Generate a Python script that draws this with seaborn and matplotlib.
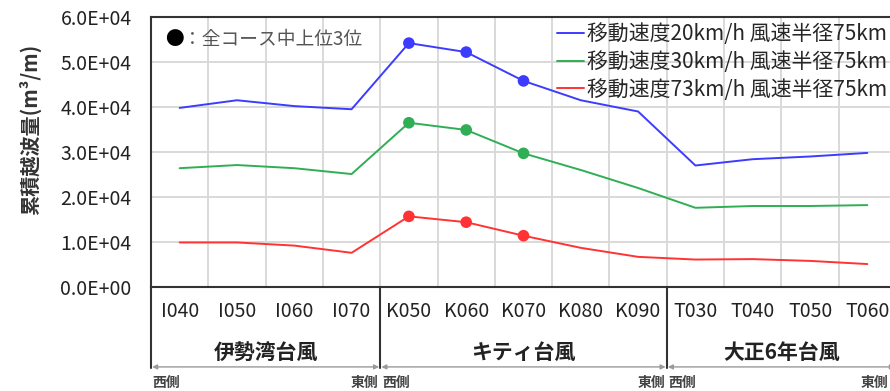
import matplotlib
matplotlib.use("Agg")
import matplotlib.pyplot as plt
import seaborn as sns
import pandas as pd

# Courses (x categories) and their typhoon groups
courses = ["I040", "I050", "I060", "I070",
           "K050", "K060", "K070", "K080", "K090",
           "T030", "T040", "T050", "T060"]
groups = ["伊勢湾台風", "キティ台風", "大正6年台風"]
group_sizes = [4, 5, 4]

# Cumulative overtopping volume (m3/m) per course
series_names = ["移動速度20km/h 風速半径75km",
                "移動速度30km/h 風速半径75km",
                "移動速度73km/h 風速半径75km"]
v20 = [3.98e4, 4.15e4, 4.02e4, 3.95e4, 5.42e4, 5.22e4, 4.58e4, 4.15e4, 3.90e4,
       2.70e4, 2.84e4, 2.90e4, 2.98e4]
v30 = [2.64e4, 2.71e4, 2.64e4, 2.51e4, 3.65e4, 3.49e4, 2.97e4, 2.60e4, 2.20e4,
       1.76e4, 1.80e4, 1.80e4, 1.82e4]
v73 = [0.99e4, 0.99e4, 0.92e4, 0.76e4, 1.57e4, 1.44e4, 1.14e4, 0.87e4, 0.67e4,
       0.61e4, 0.62e4, 0.58e4, 0.51e4]
top3 = ["K050", "K060", "K070"]

yticks = [0, 1e4, 2e4, 3e4, 4e4, 5e4, 6e4]
ytick_labels = ["0.0E+00", "1.0E+04", "2.0E+04", "3.0E+04",
                "4.0E+04", "5.0E+04", "6.0E+04"]

colors = ["#3c3cff", "#2fae55", "#ff3333"]

rows = []
for name, vals in zip(series_names, [v20, v30, v73]):
    for i, (c, v) in enumerate(zip(courses, vals)):
        rows.append({"pos": i, "course": c, "series": name, "value": v})
df = pd.DataFrame(rows)

sns.set_theme(style="white")
plt.rcParams["font.family"] = ["Noto Sans CJK JP", "DejaVu Sans"]

fig = plt.figure(figsize=(8.90, 3.91), dpi=100)
ax = fig.add_axes([151 / 890, 1 - 287 / 391, 745 / 890, 270 / 391])

sns.lineplot(data=df, x="pos", y="value", hue="series", palette=colors,
             linewidth=1.4, ax=ax, sort=True)
handles, labels = ax.get_legend_handles_labels()
ax.get_legend().remove()

sns.scatterplot(data=df[df["course"].isin(top3)], x="pos", y="value",
                hue="series", palette=colors, s=70, edgecolor="none",
                legend=False, ax=ax, zorder=5)

ax.set_xlim(-0.5, len(courses) - 0.5)
ax.set_ylim(0, 6e4)
ax.set_yticks(yticks)
ax.set_yticklabels(ytick_labels, fontsize=14, color="#222222")
ax.set_xticks(range(len(courses)))
ax.set_xticklabels(courses, fontsize=14, color="#222222")
ax.tick_params(axis="y", length=0, pad=14)
ax.tick_params(axis="x", length=0, pad=10)
ax.set_xlabel("")
ax.set_ylabel("")

# grid: horizontal at ticks, vertical at course boundaries
ax.set_xticks([i + 0.5 for i in range(len(courses) - 1)], minor=True)
ax.grid(axis="y", which="major", color="#d9d9d9", linewidth=1.4)
ax.grid(axis="x", which="minor", color="#d9d9d9", linewidth=1.4)
ax.grid(axis="x", which="major", visible=False)
ax.tick_params(axis="x", which="minor", length=0)
ax.set_axisbelow(True)

for side in ["top", "left", "bottom"]:
    ax.spines[side].set_color("#333333")
    ax.spines[side].set_linewidth(1.5)
ax.spines["right"].set_visible(False)

# group separators, group names and west/east arrows below the axis
tr = ax.get_xaxis_transform()
bounds = [-0.5]
for n in group_sizes:
    bounds.append(bounds[-1] + n)
y_arrow = -0.296
for b in bounds:
    ax.plot([b, b], [0, y_arrow - 0.005], transform=tr, color="#333333",
            linewidth=1.5, clip_on=False)
for k, (g, (a, b)) in enumerate(zip(groups, zip(bounds[:-1], bounds[1:]))):
    ax.text((a + b) / 2, -0.241, g, transform=tr, ha="center", va="center",
            fontsize=15, fontweight="bold", color="#222222", clip_on=False)
    ax.annotate("", xy=(a + 0.02, y_arrow), xytext=(b - 0.02, y_arrow),
                xycoords=tr, textcoords=tr,
                arrowprops=dict(arrowstyle="<|-|>", color="#9a9a9a", lw=1.0,
                                shrinkA=0, shrinkB=0, mutation_scale=7),
                annotation_clip=False)
    ax.text(a + 0.03, -0.356, "西側", transform=tr, ha="left", va="center",
            fontsize=10, fontweight="bold", color="#444444", clip_on=False)
    if k < len(groups) - 1:
        ax.text(b - 0.03, -0.356, "東側", transform=tr, ha="right",
                va="center", fontsize=10, fontweight="bold", color="#444444",
                clip_on=False)
    else:
        # last group ends at the figure's right edge
        fig.text(888 / 890, 1 - 383 / 391, "東側", ha="right", va="center",
                 fontsize=10, fontweight="bold", color="#444444")

ax.legend(handles, labels, loc="upper left",
          bbox_to_anchor=(557 / 890, 1 - 23 / 391), bbox_transform=fig.transFigure,
          frameon=False, borderpad=0, borderaxespad=0,
          handlelength=1.3, handletextpad=0.15, labelspacing=0.28,
          prop={"size": 15})

# marker note
fig.text(165 / 890, 1 - 40 / 391, "●", fontsize=13.5, color="black",
         ha="left", va="center")
fig.text(183 / 890, 1 - 40 / 391, "：全コース中上位3位", fontsize=13.5,
         color="#555555", ha="left", va="center")

fig.text(30 / 890, 1 - 129 / 391, "累積越波量(m³/m)", rotation=90,
         fontsize=14.5, fontweight="bold", color="#333333",
         ha="center", va="center")

fig.savefig("out.png", dpi=100)
